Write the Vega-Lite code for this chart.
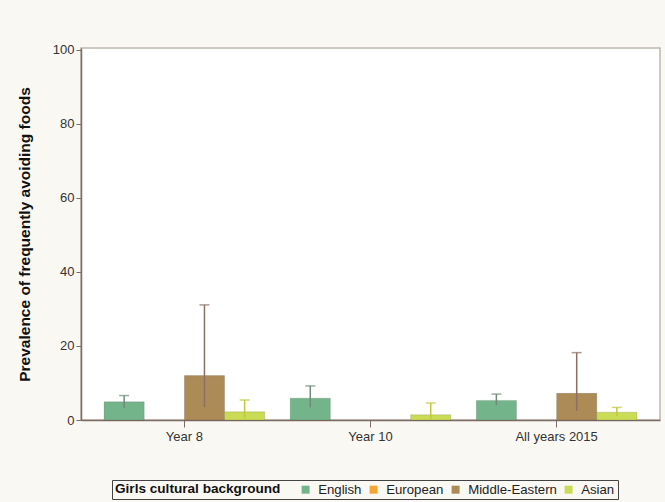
{
  "$schema": "https://vega.github.io/schema/vega-lite/v6.json",
  "autosize": "none",
  "width": 579,
  "height": 372,
  "padding": {"left": 81, "top": 48, "right": 5, "bottom": 82},
  "background": "#faf8f3",
  "config": {
    "view": {"fill": "white", "stroke": "#bfb6ae", "strokeWidth": 1.5},
    "font": "Liberation Sans",
    "axis": {
      "domainColor": "#7d6e65",
      "tickColor": "#7d6e65",
      "domainWidth": 1.5,
      "labelColor": "#333333",
      "labelFont": "Liberation Sans",
      "labelFontSize": 13,
      "grid": false
    }
  },
  "data": {
    "values": [
      {"year": "Year 8", "bg": "English", "prev": 4.9, "lo": 3.3, "hi": 6.6},
      {"year": "Year 8", "bg": "Middle-Eastern", "prev": 12.0, "lo": 3.5, "hi": 31.1},
      {"year": "Year 8", "bg": "Asian", "prev": 2.2, "lo": 0.5, "hi": 5.4},
      {"year": "Year 10", "bg": "English", "prev": 5.9, "lo": 3.4, "hi": 9.2},
      {"year": "Year 10", "bg": "Asian", "prev": 1.4, "lo": 0.2, "hi": 4.6},
      {"year": "All years 2015", "bg": "English", "prev": 5.3, "lo": 4.0, "hi": 7.0},
      {"year": "All years 2015", "bg": "Middle-Eastern", "prev": 7.2, "lo": 2.5, "hi": 18.2},
      {"year": "All years 2015", "bg": "Asian", "prev": 2.1, "lo": 1.0, "hi": 3.4}
    ]
  },
  "encoding": {
    "x": {
      "field": "year",
      "type": "nominal",
      "sort": ["Year 8", "Year 10", "All years 2015"],
      "scale": {"paddingInner": 0.137, "paddingOuter": 0.124},
      "axis": {"title": null, "labelAngle": 0, "tickSize": 7, "labelPadding": 3}
    },
    "xOffset": {
      "field": "bg",
      "type": "nominal",
      "scale": {"domain": ["English", "European", "Middle-Eastern", "Asian"], "paddingInner": 0, "paddingOuter": 0}
    }
  },
  "layer": [
    {
      "mark": {"type": "bar", "stroke": "#000000", "strokeOpacity": 0.12, "strokeWidth": 1},
      "encoding": {
        "y": {
          "field": "prev",
          "type": "quantitative",
          "scale": {"domain": [0, 100.5], "nice": false},
          "axis": {
            "title": "Prevalence of frequently avoiding foods",
            "titleFont": "Liberation Sans",
            "titleFontSize": 15.5,
            "titleFontWeight": "bold",
            "titleColor": "#111111",
            "titlePadding": 20,
            "values": [0, 20, 40, 60, 80, 100],
            "tickSize": 5,
            "labelPadding": 2
          }
        },
        "color": {
          "field": "bg",
          "type": "nominal",
          "scale": {
            "domain": ["English", "European", "Middle-Eastern", "Asian"],
            "range": ["#74b48a", "#f4a533", "#ad8b57", "#cadc55"]
          },
          "legend": {
            "title": "Girls cultural background",
            "orient": "none",
            "legendX": 31,
            "legendY": 432,
            "direction": "horizontal",
            "columns": 4,
            "titleOrient": "left",
            "titleFont": "Liberation Sans",
            "titleFontSize": 13.6,
            "titleFontWeight": "bold",
            "titleColor": "#111111",
            "titlePadding": 18,
            "labelFont": "Liberation Sans",
            "labelFontSize": 13.2,
            "labelColor": "#222222",
            "symbolType": "square",
            "symbolSize": 64,
            "symbolStrokeWidth": 0,
            "columnPadding": 5,
            "labelOffset": 6,
            "strokeColor": "#444444",
            "padding": 3
          }
        }
      }
    },
    {
      "mark": {"type": "rule", "strokeWidth": 1.5},
      "encoding": {
        "y": {"field": "lo", "type": "quantitative"},
        "y2": {"field": "hi"},
        "color": {
          "field": "bg",
          "type": "nominal",
          "scale": {
            "domain": ["English", "European", "Middle-Eastern", "Asian"],
            "range": ["#6f8a78", "#c98a2a", "#8b6f62", "#c0c83a"]
          },
          "legend": null
        }
      }
    },
    {
      "mark": {"type": "tick", "orient": "horizontal", "size": 10, "thickness": 1.5},
      "encoding": {
        "y": {"field": "hi", "type": "quantitative"},
        "color": {
          "field": "bg",
          "type": "nominal",
          "scale": {
            "domain": ["English", "European", "Middle-Eastern", "Asian"],
            "range": ["#6f8a78", "#c98a2a", "#8b6f62", "#c0c83a"]
          },
          "legend": null
        }
      }
    }
  ],
  "resolve": {"scale": {"color": "independent"}}
}
